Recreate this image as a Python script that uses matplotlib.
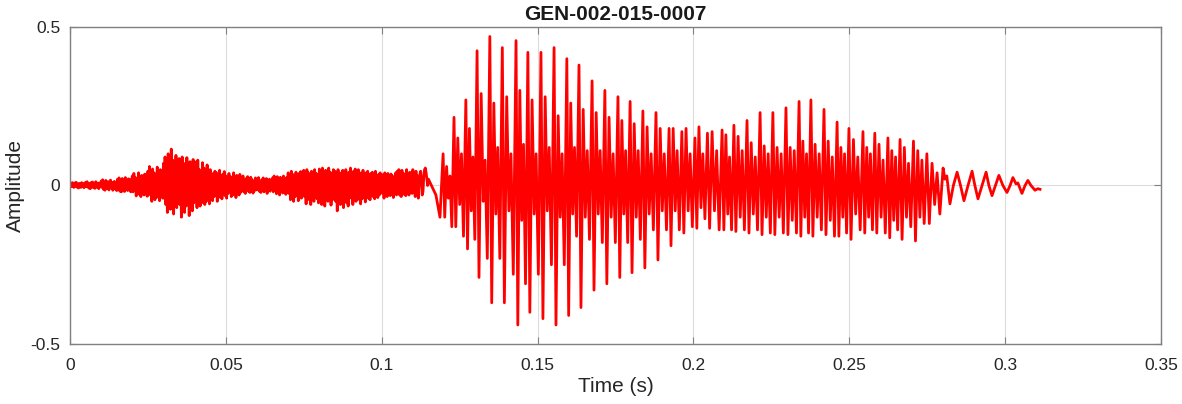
import numpy as np
import matplotlib
matplotlib.use("Agg")
import matplotlib.pyplot as plt

plt.rcParams['font.family'] = ['Liberation Sans', 'DejaVu Sans']

# unvoiced / noisy part: one value every 0.25 ms from 0 to 115 ms
noise_step_ms = 0.25
noise_amp = [
    0.000, 0.006, -0.004, 0.009, 0.002, -0.006, 0.008, -0.002, 0.010, -0.005,
    0.004, -0.008, 0.007, 0.001, -0.006, 0.009, -0.003, 0.006, -0.007, 0.005,
    0.010, -0.004, 0.012, 0.003, -0.008, 0.006, -0.010, 0.009, -0.002, 0.011,
    -0.007, 0.004, -0.009, 0.012, 0.000, -0.006, 0.008, -0.010, 0.005, -0.003,
    0.014, -0.006, 0.018, -0.012, 0.008, -0.015, 0.016, 0.002, -0.010, 0.012,
    -0.014, 0.006, 0.017, -0.008, 0.010, -0.015, 0.004, 0.013, -0.011, 0.009,
    -0.016, 0.020, -0.006, 0.024, -0.018, 0.010, -0.020, 0.022, -0.004, 0.015,
    -0.019, 0.025, -0.010, 0.012, -0.016, 0.021, -0.008, 0.018, -0.020, 0.014,
    0.030, -0.020, 0.038, -0.012, 0.025, -0.033, 0.020, -0.008, 0.040, -0.028,
    0.015, -0.035, 0.032, -0.015, 0.028, -0.030, 0.036, -0.010, 0.022, -0.034,
    0.045, -0.030, 0.060, -0.020, 0.035, -0.050, 0.052, -0.015, 0.040, -0.045,
    0.025, -0.038, 0.058, -0.028, 0.030, -0.048, 0.050, -0.022, 0.042, -0.040,
    0.070, -0.040, 0.090, -0.060, 0.050, -0.085, 0.100, -0.030, 0.060, -0.075,
    0.115, -0.050, 0.080, -0.090, 0.040, -0.060, 0.095, -0.070, 0.065, -0.045,
    0.085, -0.060, 0.050, -0.100, 0.090, -0.040, 0.070, -0.085, 0.030, -0.065,
    0.088, -0.050, 0.060, -0.095, 0.075, -0.035, 0.055, -0.080, 0.082, -0.055,
    0.075, -0.045, 0.060, -0.070, 0.080, -0.030, 0.050, -0.065, 0.040, -0.055,
    0.072, -0.040, 0.055, -0.060, 0.035, -0.050, 0.065, -0.035, 0.045, -0.058,
    0.050, -0.030, 0.038, -0.048, 0.025, -0.035, 0.045, -0.020, 0.040, -0.050,
    0.030, -0.028, 0.048, -0.038, 0.020, -0.042, 0.035, -0.025, 0.044, -0.032,
    0.030, -0.040, 0.020, -0.025, 0.038, -0.018, 0.028, -0.035, 0.015, -0.030,
    0.040, -0.020, 0.025, -0.038, 0.032, -0.015, 0.022, -0.030, 0.035, -0.022,
    0.025, -0.015, 0.030, -0.020, 0.012, -0.025, 0.022, -0.010, 0.028, -0.018,
    0.015, -0.022, 0.026, -0.012, 0.018, -0.024, 0.010, -0.016, 0.024, -0.014,
    0.020, -0.012, 0.025, -0.018, 0.010, -0.022, 0.018, -0.008, 0.024, -0.020,
    0.012, -0.015, 0.022, -0.025, 0.014, -0.010, 0.020, -0.018, 0.016, -0.012,
    0.024, -0.020, 0.030, -0.010, 0.018, -0.026, 0.028, -0.015, 0.012, -0.030,
    0.026, -0.018, 0.020, -0.024, 0.030, -0.012, 0.016, -0.028, 0.025, -0.020,
    0.040, -0.025, 0.030, -0.045, 0.045, -0.020, 0.035, -0.050, 0.025, -0.035,
    0.042, -0.030, 0.020, -0.048, 0.038, -0.022, 0.044, -0.040, 0.028, -0.032,
    0.048, -0.035, 0.030, -0.058, 0.050, -0.025, 0.040, -0.045, 0.022, -0.060,
    0.045, -0.030, 0.035, -0.050, 0.050, -0.020, 0.038, -0.042, 0.030, -0.055,
    0.052, -0.030, 0.040, -0.060, 0.055, -0.035, 0.025, -0.065, 0.048, -0.040,
    0.035, -0.050, 0.055, -0.028, 0.042, -0.062, 0.030, -0.045, 0.050, -0.035,
    0.045, -0.050, 0.030, -0.080, 0.050, -0.035, 0.040, -0.060, 0.025, -0.045,
    0.048, -0.070, 0.035, -0.040, 0.050, -0.055, 0.030, -0.065, 0.042, -0.038,
    0.055, -0.040, 0.035, -0.060, 0.045, -0.030, 0.052, -0.050, 0.028, -0.045,
    0.050, -0.035, 0.040, -0.058, 0.030, -0.042, 0.048, -0.030, 0.036, -0.052,
    0.040, -0.030, 0.045, -0.040, 0.025, -0.045, 0.038, -0.020, 0.042, -0.035,
    0.030, -0.042, 0.045, -0.025, 0.020, -0.038, 0.035, -0.030, 0.040, -0.022,
    0.035, -0.025, 0.028, -0.040, 0.040, -0.018, 0.022, -0.035, 0.038, -0.028,
    0.018, -0.032, 0.036, -0.020, 0.030, -0.038, 0.025, -0.022, 0.040, -0.030,
    0.045, -0.020, 0.050, -0.030, 0.030, -0.035, 0.048, -0.015, 0.038, -0.028,
    0.025, -0.032, 0.050, -0.022, 0.035, -0.030, 0.042, -0.018, 0.030, -0.025,
    0.050, -0.015, 0.040, -0.035, 0.045, -0.010, 0.030, -0.040, 0.020, 0.035,
    0.045, 0.010, -0.030, -0.020, 0.030, 0.050, 0.055, 0.040, 0.020, 0.000,
    0.020,
]

# onset before the first glottal pulse
onset_t_ms = [117.4, 118.7]
onset_amp = [-0.03, -0.10]

# voiced part: one entry per pitch period (main peak time and read extrema)
peak_t_ms = [119.7, 123.2, 127.0, 130.6, 134.7, 138.7, 143.1, 146.9, 151.1, 155.3,
             159.4, 163.3, 167.5, 171.6, 175.8, 179.7, 183.8, 188.0, 192.2, 196.3,
             200.5, 204.5, 209.2, 213.0, 217.2, 221.4, 225.5, 229.7, 233.9, 237.7,
             241.9, 246.1, 249.9, 254.4, 258.2, 262.4, 266.3, 270.6, 274.9]
peak_amp = [0.10, 0.215, 0.27, 0.425, 0.47, 0.435, 0.457, 0.42, 0.42, 0.435,
            0.40, 0.38, 0.33, 0.30, 0.28, 0.265, 0.235, 0.23, 0.18, 0.17,
            0.15, 0.165, 0.175, 0.19, 0.205, 0.23, 0.23, 0.245, 0.265, 0.27,
            0.24, 0.20, 0.18, 0.17, 0.165, 0.15, 0.145, 0.14, 0.10]
trough_amp = [-0.10, -0.13, -0.20, -0.29, -0.37, -0.37, -0.44, -0.40, -0.42, -0.44,
              -0.41, -0.385, -0.33, -0.31, -0.29, -0.275, -0.26, -0.235, -0.19, -0.15,
              -0.135, -0.135, -0.14, -0.145, -0.15, -0.155, -0.155, -0.155, -0.16, -0.16,
              -0.155, -0.16, -0.17, -0.15, -0.15, -0.165, -0.17, -0.175, -0.12]
second_peak_amp = [0.06, 0.15, 0.18, 0.29, 0.26, 0.28, 0.30, 0.27, 0.28, 0.22,
                   0.26, 0.24, 0.23, 0.215, 0.205, 0.195, 0.185, 0.18, 0.18, 0.18,
                   0.185, 0.17, 0.16, 0.155, 0.135, 0.125, 0.12, 0.12, 0.14, 0.13,
                   0.14, 0.12, 0.145, 0.12, 0.13, 0.11, 0.12, 0.11, 0.07]
mid_trough_amp = [-0.04, -0.06, -0.08, -0.05, -0.09, -0.08, -0.11, -0.09, -0.08, -0.10,
                  -0.09, -0.10, -0.09, -0.10, -0.09, -0.10, -0.09, -0.08, -0.08, -0.08,
                  -0.07, -0.08, -0.09, -0.10, -0.09, -0.10, -0.10, -0.11, -0.10, -0.10,
                  -0.11, -0.10, -0.09, -0.10, -0.10, -0.11, -0.10, -0.10, -0.06]
bump_amp = [0.03, 0.10, 0.09, 0.08, 0.12, 0.10, 0.13, 0.10, 0.12, 0.10,
            0.12, 0.11, 0.11, 0.10, 0.11, 0.11, 0.10, 0.10, 0.11, 0.10,
            0.10, 0.11, 0.09, 0.11, 0.09, 0.10, 0.10, 0.11, 0.10, 0.10,
            0.09, 0.10, 0.09, 0.10, 0.08, 0.09, 0.07, 0.08, 0.04]
second_trough_amp = [-0.13, -0.16, -0.17, -0.23, -0.23, -0.28, -0.31, -0.28, -0.25, -0.25,
                     -0.16, -0.17, -0.18, -0.18, -0.18, -0.17, -0.14, -0.14, -0.14, -0.13,
                     -0.105, -0.14, -0.14, -0.14, -0.14, -0.15, -0.15, -0.15, -0.15, -0.14,
                     -0.16, -0.15, -0.14, -0.14, -0.15, -0.14, -0.13, -0.12, -0.09]
# where those extrema sit inside a period (fraction of the period)
extrema_pos = [0.0, 0.15, 0.32, 0.48, 0.63, 0.80]

# decaying tail
tail_t_ms = [280.1, 280.7, 281.3, 282.3, 283.4, 284.6, 285.7, 286.8, 288.1, 289.4,
             290.3, 291.3, 292.6, 293.9, 294.8, 295.8, 296.9, 298.0, 299.3, 300.6,
             301.6, 302.5, 303.5, 304.1, 305.4, 306.4, 307.3, 308.3, 309.6, 310.5, 311.2]
tail_amp = [0.055, 0.02, 0.03, -0.058, 0.0, 0.042, 0.0, -0.048, 0.0, 0.045,
            0.0, -0.042, 0.0, 0.042, 0.0, -0.032, 0.0, 0.032, 0.0, -0.022,
            0.0, 0.025, 0.005, 0.008, -0.025, 0.0, 0.016, 0.0, -0.015, -0.010, -0.012]

# assemble the polyline
t_ms = list(np.arange(len(noise_amp)) * noise_step_ms)
amp = list(noise_amp)
t_ms += onset_t_ms
amp += onset_amp
next_peaks = peak_t_ms[1:] + [tail_t_ms[0]]
for i, t0 in enumerate(peak_t_ms):
    period = next_peaks[i] - t0
    vals = [peak_amp[i], trough_amp[i], second_peak_amp[i], mid_trough_amp[i],
            bump_amp[i], second_trough_amp[i]]
    for f, v in zip(extrema_pos, vals):
        t_ms.append(t0 + f * period)
        amp.append(v)
t_ms += tail_t_ms
amp += tail_amp
t = np.array(t_ms) / 1000.0

fig = plt.figure(figsize=(11.82, 4.04), dpi=100)
ax = fig.add_axes([0.0592, 0.1485, 0.923, 0.7847])
ax.plot(t, amp, color='red', linewidth=2.0)

ax.set_xlim(0, 0.35)
ax.set_ylim(-0.5, 0.5)
ax.set_xticks([0, 0.05, 0.1, 0.15, 0.2, 0.25, 0.3, 0.35])
ax.set_xticklabels(['0', '0.05', '0.1', '0.15', '0.2', '0.25', '0.3', '0.35'])
ax.set_yticks([-0.5, 0, 0.5])
ax.set_yticklabels(['-0.5', '0', '0.5'])
ax.grid(True, color='#dcdcdc', linewidth=0.8)
ax.set_axisbelow(True)
for s in ax.spines.values():
    s.set_color('#808080')
    s.set_linewidth(1.0)
ax.tick_params(direction='in', top=True, right=True, length=5, color='#808080',
               labelcolor='#262626', labelsize=12.5)
ax.tick_params(axis='x', pad=10)
ax.tick_params(axis='y', pad=7)
ax.set_xlabel('Time (s)', fontsize=15, color='#262626', labelpad=3)
ax.set_ylabel('Amplitude', fontsize=15, color='#262626', labelpad=4)
ax.set_title('GEN-002-015-0007', fontsize=15, fontweight='bold', color='#1a1a1a', pad=5)

fig.savefig('out.png', dpi=100)
